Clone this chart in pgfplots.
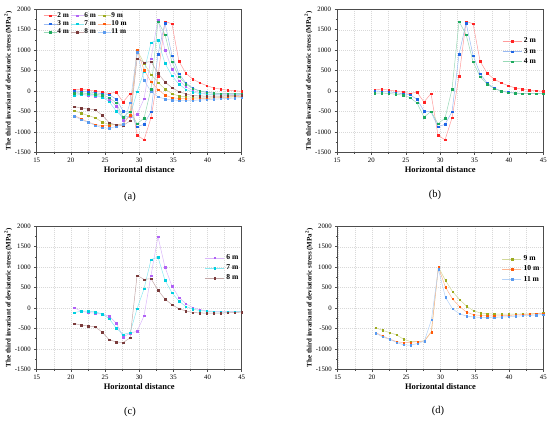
\documentclass[border=0pt]{standalone}
\usepackage{pgfplots}
\pgfplotsset{compat=1.18}
\usepackage{pgfplotstable}
\usepackage{fontspec}
\setmainfont{Liberation Serif}

\definecolor{cA}{HTML}{FF2424}
\definecolor{cB}{HTML}{1F66E5}
\definecolor{cC}{HTML}{1DAA5E}
\definecolor{cD}{HTML}{B061F5}
\definecolor{cE}{HTML}{00CFE0}
\definecolor{cF}{HTML}{7A3B3B}
\definecolor{cG}{HTML}{9CAA1E}
\definecolor{cH}{HTML}{FF5A0A}
\definecolor{cI}{HTML}{5A9AEE}

\pgfplotstableread{
x     s2    s3    s4
20.50   25     0   -50
21.52   50   -10   -50
22.54   20   -20   -60
23.56    0   -40   -80
24.58  -30   -70  -100
25.60  -60   -90  -160
26.63  -30  -200  -290
27.65 -270  -490  -640
28.67  -60  -510  -500
29.69 -1080 -875  -800
30.71 -1195 -815  -665
31.73 -655  -505    50
32.75  360   900  1700
33.77 1705  1665  1385
34.79 1645   870   715
35.81  730   425   350
36.83  435   195   168
37.85  290    70    62
38.88  200     0    -5
39.90  130   -30   -35
40.92   75   -50   -55
41.94   45   -60   -62
42.96   20   -60   -65
43.98    5   -60   -65
45.00   -5   -60   -65
}\tabB

\pgfplotstableread{
x     s6    s7    s8
20.50    5  -110  -380
21.52  -80   -80  -420
22.54 -110   -75  -440
23.56 -125   -95  -460
24.58 -150  -145  -590
25.60 -200  -260  -775
26.63 -370  -490  -832
27.65 -710  -645  -845
28.67 -615  -605  -730
29.69 -570   -15   800
30.71 -190   470   702
31.73  800  1185   718
32.75 1745  1245   435
33.77 1003   680   220
34.79  540   375    82
35.81  258   168   -16
36.83  106    41   -72
37.85   10   -30  -110
38.88  -40   -60  -120
39.90  -70   -80  -125
40.92  -82   -90  -125
41.94  -90   -98  -125
42.96  -90   -98  -118
43.98  -90   -92  -110
45.00  -90   -90  -100
}\tabC

\pgfplotstableread{
x     s9    s10   s11
20.50 -480  -600  -610
21.52 -545  -680  -705
22.54 -600  -760  -765
23.56 -655  -820  -840
24.58 -760  -850  -900
25.60 -820  -840  -910
26.63 -820  -820  -870
27.65 -805  -810  -810
28.67 -580  -585  -290
29.69 1003  1000   950
30.71  678   515   265
31.73  408   226   -16
32.75  212    40  -140
33.77   50   -98  -196
34.79  -65  -163  -220
35.81 -122  -182  -230
36.83 -140  -190  -232
37.85 -150  -192  -230
38.88 -152  -190  -222
39.90 -152  -182  -212
40.92 -150  -172  -202
41.94 -145  -162  -192
42.96 -140  -152  -182
43.98 -132  -142  -170
45.00 -122  -132  -160
}\tabD

\pgfplotsset{
  ser/.style={color=#1!45!white, line width=0.5bp, mark=square*, mark size=0.72bp,
    mark options={draw=#1, fill=#1, line width=0.2bp, solid}},
  panel/.style={
    scale only axis, height=143bp,
    xmin=15, xmax=45, ymin=-1500, ymax=2000,
    xtick={15,20,...,45}, xticklabels={15,20,25,30,35,40,45},
    ytick={-1500,-1000,...,2000},
    yticklabels={-1500,-1000,-500,0,500,1000,1500,2000},
    minor x tick num=1, minor y tick num=1,
    tick align=outside, tick pos=left,
    major tick length=2.5bp, minor tick length=1.5bp,
    every tick/.style={gray!60!black, line width=0.5bp},
    xmajorgrids=true, ymajorgrids=true, xminorgrids=true,
    major grid style={gray!30, dash pattern=on 1bp off 1bp, line width=0.4bp},
    minor grid style={gray!30, dash pattern=on 1bp off 1bp, line width=0.4bp},
    axis line style={gray!60!black, line width=0.6bp},
    tick label style={font=\fontsize{6.8}{7}\selectfont},
    xlabel={Horizontal distance},
    xlabel style={font=\fontsize{8.5}{9}\selectfont\bfseries,
      at={(axis description cs:0.5,-0.122)}, anchor=center},
    ylabel={The third invariant of deviatoric stress (MPa\textsuperscript{2})},
    ylabel style={font=\fontsize{7}{8}\selectfont\bfseries,
      at={(axis description cs:-0.1385,0.5)}, anchor=center},
    clip=false,
    legend cell align=left,
    legend style={draw=none, fill=none, inner sep=0pt, row sep=-0.3bp,
      font=\fontsize{7.6}{8}\selectfont\bfseries},
    legend image code/.code={\draw[mark repeat=2,mark phase=2,##1]
      plot coordinates {(0bp,0bp) (9.5bp,0bp) (19bp,0bp)};},
  },
}

\begin{document}
\begin{tikzpicture}
\path[use as bounding box] (0bp,0bp) rectangle (550bp,424bp);

% (a)
\begin{axis}[panel, width=205bp, at={(36.7bp,271.7bp)}, anchor=south west,
  legend columns=3,
  legend style={at={(axis description cs:0.032,0.994)}, anchor=north west,
    font=\fontsize{7.3}{7.5}\selectfont\bfseries, row sep=-2bp,
    nodes={inner xsep=0.5bp},
    /tikz/every even column/.append style={column sep=1bp}},
  legend image code/.code={\draw[mark repeat=2,mark phase=2,#1]
      plot coordinates {(0bp,0bp) (6.5bp,0bp) (13bp,0bp)};}]
\addplot[ser=cA] table[x=x,y=s2] {\tabB}; \addlegendentry{2 m}
\addplot[ser=cD] table[x=x,y=s6] {\tabC}; \addlegendentry{6 m}
\addplot[ser=cG] table[x=x,y=s9] {\tabD}; \addlegendentry{9 m}
\addplot[ser=cB] table[x=x,y=s3] {\tabB}; \addlegendentry{3 m}
\addplot[ser=cE] table[x=x,y=s7] {\tabC}; \addlegendentry{7 m}
\addplot[ser=cH] table[x=x,y=s10] {\tabD}; \addlegendentry{10 m}
\addplot[ser=cC] table[x=x,y=s4] {\tabB}; \addlegendentry{4 m}
\addplot[ser=cF] table[x=x,y=s8] {\tabC}; \addlegendentry{8 m}
\addplot[ser=cI] table[x=x,y=s11] {\tabD}; \addlegendentry{11 m}
\end{axis}

% (b)
\begin{axis}[panel, width=206.3bp, at={(337bp,271.7bp)}, anchor=south west,
  legend style={at={(axis description cs:0.975,0.815)}, anchor=north east}]
\addplot[ser=cA] table[x=x,y=s2] {\tabB}; \addlegendentry{2 m}
\addplot[ser=cB] table[x=x,y=s3] {\tabB}; \addlegendentry{3 m}
\addplot[ser=cC] table[x=x,y=s4] {\tabB}; \addlegendentry{4 m}
\end{axis}

% (c)
\begin{axis}[panel, width=205bp, at={(36.7bp,54.7bp)}, anchor=south west,
  legend style={at={(axis description cs:0.995,0.818)}, anchor=north east}]
\addplot[ser=cD] table[x=x,y=s6] {\tabC}; \addlegendentry{6 m}
\addplot[ser=cE] table[x=x,y=s7] {\tabC}; \addlegendentry{7 m}
\addplot[ser=cF] table[x=x,y=s8] {\tabC}; \addlegendentry{8 m}
\end{axis}

% (d)
\begin{axis}[panel, width=205.6bp, at={(337.7bp,54.7bp)}, anchor=south west,
  legend style={at={(axis description cs:0.992,0.81)}, anchor=north east}]
\addplot[ser=cG] table[x=x,y=s9] {\tabD}; \addlegendentry{9 m}
\addplot[ser=cH] table[x=x,y=s10] {\tabD}; \addlegendentry{10 m}
\addplot[ser=cI] table[x=x,y=s11] {\tabD}; \addlegendentry{11 m}
\end{axis}

\node[font=\fontsize{10.5}{11}\selectfont] at (130bp,227bp) {(a)};
\node[font=\fontsize{10.5}{11}\selectfont] at (435bp,229bp) {(b)};
\node[font=\fontsize{10.5}{11}\selectfont] at (130bp,12bp) {(c)};
\node[font=\fontsize{10.5}{11}\selectfont] at (438bp,13bp) {(d)};
\end{tikzpicture}
\end{document}
